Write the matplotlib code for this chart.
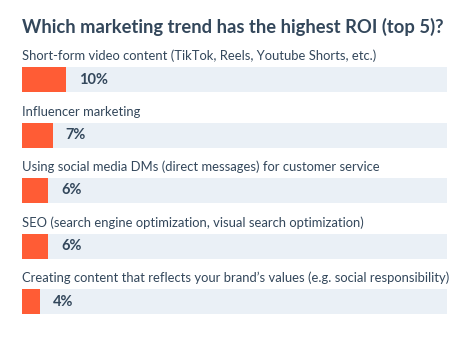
import matplotlib
matplotlib.use("Agg")
import matplotlib.pyplot as plt

title = "Which marketing trend has the highest ROI (top 5)?"
categories = [
    "Short-form video content (TikTok, Reels, Youtube Shorts, etc.)",
    "Influencer marketing",
    "Using social media DMs (direct messages) for customer service",
    "SEO (search engine optimization, visual search optimization)",
    "Creating content that reflects your brand\u2019s values (e.g. social responsibility)",
]
values = [10, 7, 6, 6, 4]

W, H = 475, 337
ORANGE = "#ff5c35"
TRACK = "#eaf0f6"
INK = "#33475b"
FONT = "Lato"
SCALE_MAX = 97  # value spanned by the full grey track

fig = plt.figure(figsize=(W / 100, H / 100), dpi=100)
fig.patch.set_facecolor("white")

left, right = 22, 447
ax = fig.add_axes([left / W, 0, (right - left) / W, 1])
ax.set_xlim(0, SCALE_MAX)
ax.set_ylim(H, 0)
ax.axis("off")

first_bar_top, pitch, bar_h = 67, 55.5, 25
for i, (cat, v) in enumerate(zip(categories, values)):
    top = first_bar_top + i * pitch
    ax.barh(top + bar_h / 2, SCALE_MAX, height=bar_h, left=0, color=TRACK, zorder=1)
    ax.barh(top + bar_h / 2, v, height=bar_h, left=0, color=ORANGE, zorder=2)
    ax.text(0, top - 11, cat, family=FONT, fontsize=9.35, color=INK,
            ha="left", va="center")
    ax.annotate(f"{v}%", xy=(v, top + bar_h / 2), xytext=(13, 0),
                textcoords="offset pixels", family=FONT, fontsize=10.5,
                fontweight="bold", color=INK, ha="left", va="center")

fig.text(left / W, 1 - 27 / H, title, family=FONT, fontsize=13.2, fontweight="bold",
         color=INK, ha="left", va="center")

fig.savefig("out.png", dpi=100)
